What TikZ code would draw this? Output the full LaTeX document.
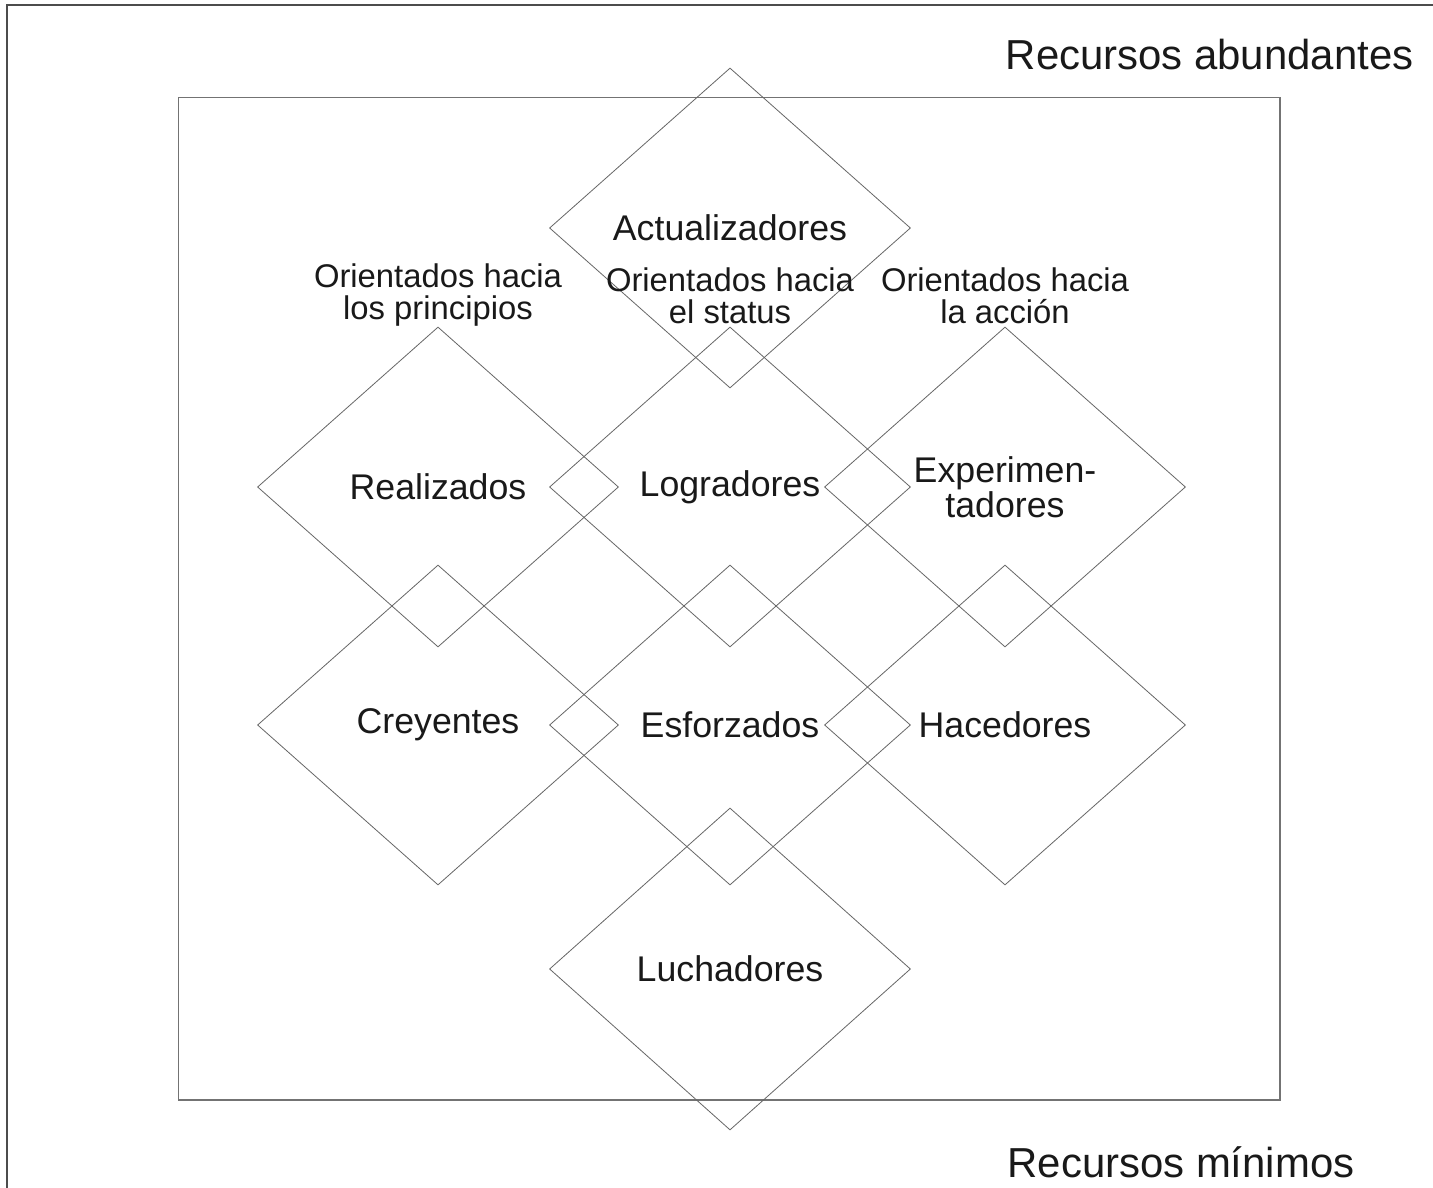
\documentclass[tikz,border=0pt]{standalone}
\usepackage{fontspec}
\setmainfont{Liberation Sans}
\usetikzlibrary{shapes.geometric}
\begin{document}
\begin{tikzpicture}[x=1pt,y=-1pt,
  framestroke/.style={draw=black!70,line width=2pt},
  boxstroke/.style={draw=black!55,line width=1.2pt},
  segment/.style={shape=diamond,draw=black!60,line width=0.8pt,
    minimum width=361pt,minimum height=320pt,inner sep=0pt,
    font=\fontsize{35.7}{34.5}\selectfont,align=center,text=black!90},
  header/.style={font=\fontsize{32.8}{32}\selectfont,align=center,text=black!90},
  axislabel/.style={font=\fontsize{41.9}{44}\selectfont,text=black!90}]
  % page extent
  \useasboundingbox (0,0) rectangle (1433,1188);
  \fill[white] (0,0) rectangle (1433,1188);
  % outer frame (left and top edges)
  \coordinate (fbl) at (6.5,1188);
  \coordinate (ftl) at (6.5,5.5);
  \coordinate (ftr) at (1433,5.5);
  \draw[framestroke] (fbl) -- (ftl) -- (ftr);
  % inner field
  \draw[boxstroke] (178.5,97.5) rectangle (1280,1100);
  % segments
  \node[segment] (act) at (730,228) {Actualizadores};
  \node[segment] (rea) at (438,487) {Realizados};
  \node[segment] (log) at (730,487) {Logradores};
  \node[segment] (exp) at (1005,487) {Experimen-\\tadores};
  \node[segment] (cre) at (438,725) {Creyentes};
  \node[segment] (esf) at (730,725) {Esforzados};
  \node[segment] (hac) at (1005,725) {Hacedores};
  \node[segment,minimum height=322pt] (luc) at (730,969) {Luchadores};
  % orientation headers
  \node[header] (hp) at (438,295) {Orientados hacia\\los principios};
  \node[header] (hs) at (730,296) {Orientados hacia\\el status};
  \node[header] (ha) at (1005,296) {Orientados hacia\\la acción};
  % resource axis
  \node[axislabel,anchor=east] (ra) at (1417,55) {Recursos abundantes};
  \node[axislabel,anchor=west] (rm) at (1004,1162) {Recursos mínimos};
\end{tikzpicture}
\end{document}
